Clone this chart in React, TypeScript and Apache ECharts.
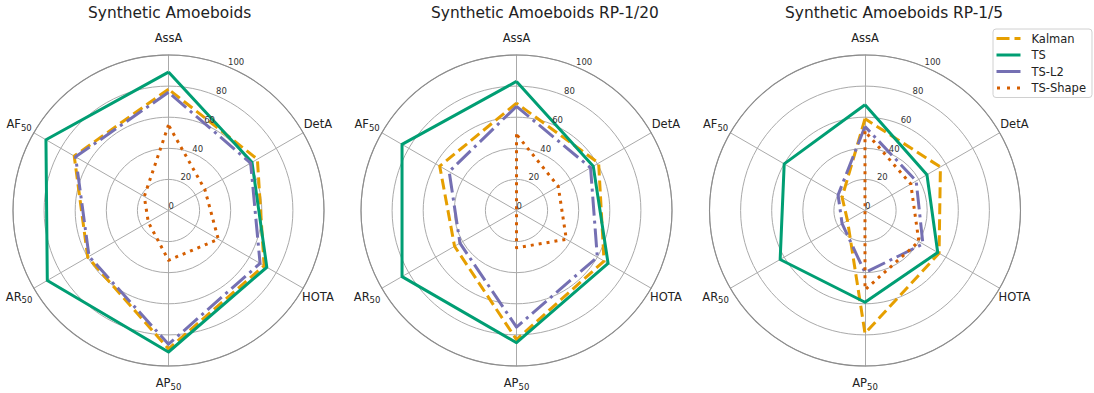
import React, { useEffect, useRef } from 'react';
import * as echarts from 'echarts';

// Metrics in clockwise order starting at the top of each radar
const metrics = ['AssA', 'DetA', 'HOTA', 'AP50', 'AR50', 'AF50'];
const panelTitles = [
  'Synthetic Amoeboids',
  'Synthetic Amoeboids RP-1/20',
  'Synthetic Amoeboids RP-1/5',
];
const methods = ['Kalman', 'TS', 'TS-L2', 'TS-Shape'];
const radialTicks = [0, 20, 40, 60, 80, 100];

// Scores per method, same order as `metrics`
const kalmanFull = [78, 66, 71, 89, 60, 70];
const tsFull = [89, 62, 73, 91, 90, 91];
const tsL2Full = [76, 61, 68, 86, 59, 69];
const tsShapeFull = [55, 27, 37, 32, 15, 18];

const kalmanRP20 = [69, 61, 65, 83, 46, 57];
const tsRP20 = [83, 57, 68, 85, 85, 85];
const tsL2RP20 = [67, 55, 60, 75, 42, 50];
const tsShapeRP20 = [49, 31, 37, 24, 0, 0];

const kalmanRP5 = [59, 56, 55, 79, 13, 17];
const tsRP5 = [68, 46, 54, 59, 63, 60];
const tsL2RP5 = [54, 38, 43, 40, 17, 20];
const tsShapeRP5 = [51, 34, 40, 51, 0, 0];

const panelData = [
  [kalmanFull, tsFull, tsL2Full, tsShapeFull],
  [kalmanRP20, tsRP20, tsL2RP20, tsShapeRP20],
  [kalmanRP5, tsRP5, tsL2RP5, tsShapeRP5],
];

const methodColors = ['#E69F00', '#009E73', '#7570B3', '#D55E00'];
const methodDash: (number[] | 'solid')[] = [[11, 5], 'solid', [19, 5, 3, 5], [3, 5]];
const legendIcons = [
  'path://M0,0H13V3H0Z M18,0H24V3H18Z',
  'path://M0,0H24V3H0Z',
  'path://M0,0H24V3H0Z',
  'path://M0,0H3V3H0Z M10,0H13V3H10Z M20,0H23V3H20Z',
];

const FONT = "'DejaVu Sans', sans-serif";
const TEXT = '#222';
const GRID = '#aaaaaa';
const centersX = [168.5, 516.5, 865];
const titleLeft = [88, 431, 785];
const centerY = 210.5;
const RADIUS = 155.5;

// ECharts lays radar indicators out counter-clockwise; reorder so they read clockwise.
const displayOrder = [0, 5, 4, 3, 2, 1];

function nameFormatter(name: string) {
  return name.endsWith('50') ? `${name.slice(0, -2)}{s|50}` : name;
}

export default function App() {
  const ref = useRef<HTMLDivElement>(null);

  useEffect(() => {
    if (!ref.current) return;
    const chart = echarts.init(ref.current, undefined, { renderer: 'svg' });

    const radar = centersX.map((cx) => ({
      center: [cx, centerY],
      radius: RADIUS,
      startAngle: 90,
      shape: 'circle',
      splitNumber: 5,
      indicator: displayOrder.map((i) => ({ name: metrics[i], min: 0, max: 100 })),
      nameGap: 17,
      axisName: {
        color: TEXT,
        fontSize: 11.5,
        fontFamily: FONT,
        align: 'center',
        verticalAlign: 'middle',
        formatter: nameFormatter,
        rich: {
          s: { fontSize: 8.5, color: TEXT, fontFamily: FONT, padding: [7, 0, 0, 0] },
        },
      },
      splitLine: { lineStyle: { color: GRID, width: 1 } },
      splitArea: { show: false },
      axisLine: { lineStyle: { color: GRID, width: 1 } },
      axisTick: { show: false },
      axisLabel: { show: false },
    }));

    // Polar systems overlaying each radar: outer ring + radial tick labels at 22.5°
    const polar = centersX.map((cx) => ({ center: [cx, centerY], radius: RADIUS }));
    const angleAxis = centersX.map((_, k) => ({
      polarIndex: k,
      type: 'value',
      min: 0,
      max: 360,
      startAngle: 67.5,
      z: 3,
      axisLine: { show: true, lineStyle: { color: '#8c8c8c', width: 1.1 } },
      axisTick: { show: false },
      axisLabel: { show: false },
      splitLine: { show: false },
    }));
    const radiusAxis = centersX.map((_, k) => ({
      polarIndex: k,
      type: 'value',
      min: radialTicks[0],
      max: radialTicks[radialTicks.length - 1],
      interval: radialTicks[1] - radialTicks[0],
      z: 3,
      axisLine: { show: false },
      axisTick: { show: false },
      splitLine: { show: false },
      axisLabel: {
        show: true,
        margin: 0,
        align: 'left',
        verticalAlign: 'bottom',
        fontSize: 8.5,
        color: '#333',
        fontFamily: FONT,
      },
    }));

    const series: any[] = [];
    panelData.forEach((panel, k) => {
      panel.forEach((vals, m) => {
        series.push({
          type: 'radar',
          name: methods[m],
          radarIndex: k,
          silent: true,
          symbol: 'none',
          color: methodColors[m],
          itemStyle: { color: methodColors[m] },
          lineStyle: {
            color: methodColors[m],
            width: 3,
            type: methodDash[m],
            join: 'round',
          },
          emphasis: { disabled: true },
          data: [{ name: methods[m], value: displayOrder.map((i) => vals[i]) }],
        });
      });
    });

    chart.setOption({
      animation: false,
      backgroundColor: '#ffffff',
      textStyle: { fontFamily: FONT },
      graphic: panelTitles.map((t, k) => ({
        type: 'text',
        x: titleLeft[k],
        y: 5,
        style: {
          text: t,
          fill: TEXT,
          fontSize: 15.4,
          fontFamily: FONT,
          align: 'left',
          textAlign: 'left',
          verticalAlign: 'top',
          textVerticalAlign: 'top',
        },
      })),
      legend: {
        orient: 'vertical',
        left: 993,
        top: 29,
        itemWidth: 24,
        itemHeight: 3,
        itemGap: 4.5,
        padding: [3.5, 6, 3.5, 3.5],
        borderColor: '#d0d0d0',
        borderWidth: 1,
        borderRadius: 3,
        backgroundColor: 'rgba(255,255,255,0.85)',
        selectedMode: false,
        textStyle: { fontSize: 11.5, color: TEXT, fontFamily: FONT, padding: [0, 0, 0, 6] },
        data: methods.map((m, i) => ({
          name: m,
          icon: legendIcons[i],
          itemStyle: { color: methodColors[i], borderWidth: 0 },
        })),
      },
      radar,
      polar,
      angleAxis,
      radiusAxis,
      series,
    });

    return () => chart.dispose();
  }, []);

  return (
    <div
      ref={ref}
      style={{ position: 'fixed', left: 0, top: 0, width: 1094, height: 393, background: '#fff' }}
    />
  );
}
